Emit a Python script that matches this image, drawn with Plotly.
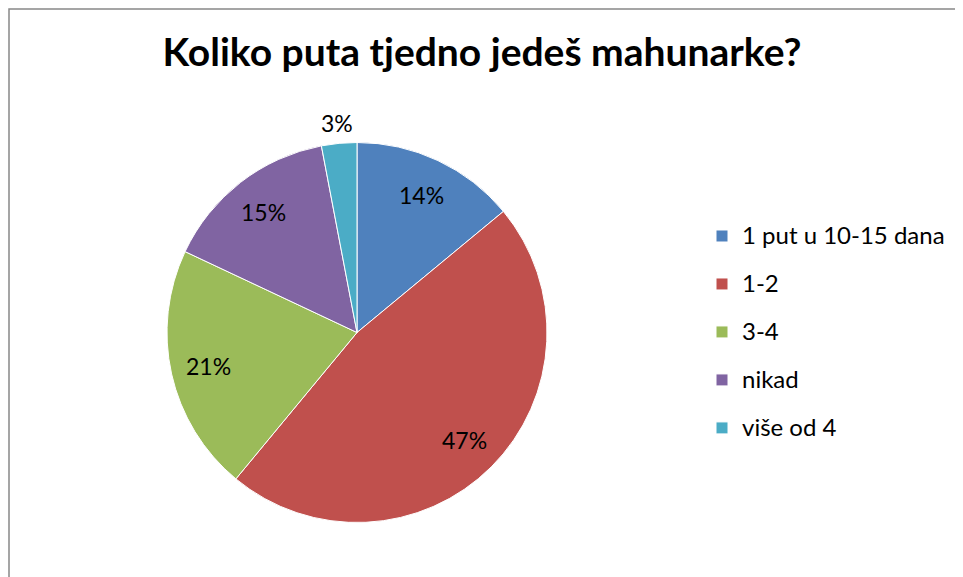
import math
import plotly.graph_objects as go

categories = ["1 put u 10-15 dana", "1-2", "3-4", "nikad", "više od 4"]
values = [14, 47, 21, 15, 3]
colors = ["#4F81BD", "#C0504D", "#9BBB59", "#8064A2", "#4BACC6"]

W, H = 963, 577
OFF = 8  # page body margin offset


def fx(p):
    return (p - OFF) / W


def fy(p):
    return 1 - (p - OFF) / H


cx, cy, r = 357, 332.5, 190  # screen pixels

fig = go.Figure(go.Pie(
    labels=[f'<span style="font-size:24px;baseline-shift:5px">{c}</span>' for c in categories],
    values=values,
    sort=False,
    direction="clockwise",
    rotation=0,
    marker=dict(colors=colors, line=dict(color="white", width=1)),
    textinfo="none",
    hoverinfo="label+percent",
    domain=dict(x=[fx(cx - r), fx(cx + r)], y=[fy(cy + r), fy(cy - r)]),
))

# percentage labels placed from the slice mid-angles (derived from values)
total = sum(values)
annotations = []
cum = 0
for v in values:
    mid = (cum + v / 2) / total * 2 * math.pi
    cum += v
    d = r * (0.8 if v / total >= 0.05 else 1.11)
    px = cx + d * math.sin(mid)
    py = cy - d * math.cos(mid)
    annotations.append(dict(x=fx(px), y=fy(py), xref="paper", yref="paper",
                            text=f"{round(v / total * 100)}%", showarrow=False,
                            xanchor="center", yanchor="middle",
                            font=dict(family="Lato", size=23, color="black")))

fig.update_layout(
    width=W, height=H,
    margin=dict(l=0, r=0, t=0, b=0),
    paper_bgcolor="white",
    title=dict(text="<b>Koliko puta tjedno jedeš mahunarke?</b>", x=fx(482), xanchor="center",
               y=fy(52), yanchor="middle",
               font=dict(family="Lato", size=39, color="black")),
    legend=dict(x=fx(702), xanchor="left", y=fy(332), yanchor="middle",
                font=dict(family="Lato", size=34.6, color="black"),
                itemwidth=30),
    annotations=annotations,
    shapes=[dict(type="rect", xref="paper", yref="paper",
                 x0=fx(9), x1=1.02, y0=-0.02, y1=fy(9),
                 line=dict(color="#888888", width=1.5))],
)

fig.write_html("out.html")
